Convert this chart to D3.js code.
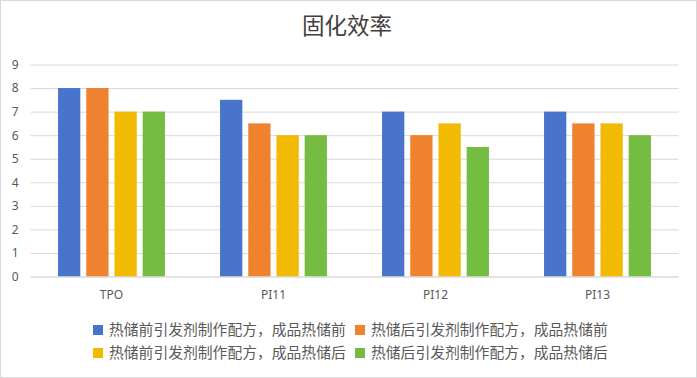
<!DOCTYPE html>
<html>
<head>
<meta charset="utf-8">
<script src="https://cdn.jsdelivr.net/npm/d3@7"></script>
<style>
  body { margin: 0; background: #fff; }
  svg { display: block; }
</style>
</head>
<body>
<svg id="chart" width="697" height="378"></svg>
<script>
// data
const categories = ['TPO', 'PI11', 'PI12', 'PI13'];
const seriesNames = [
    '热储前引发剂制作配方，成品热储前',
    '热储后引发剂制作配方，成品热储前',
    '热储前引发剂制作配方，成品热储后',
    '热储后引发剂制作配方，成品热储后'
];
const series1 = [8, 7.5, 7, 7];
const series2 = [8, 6.5, 6, 6.5];
const series3 = [7, 6, 6.5, 6.5];
const series4 = [7, 6, 5.5, 6];
const yTicks = [0, 1, 2, 3, 4, 5, 6, 7, 8, 9];

const allSeries = [series1, series2, series3, series4];
const colors = ['#4874CB', '#EE822F', '#F2BA02', '#75BD42'];

const W = 697, H = 378;
const cjk = '"Noto Sans CJK SC", "Noto Sans", sans-serif';
const latin = '"Noto Sans", "DejaVu Sans", sans-serif';

const svg = d3.select('#chart');

// outer border
svg.append('rect')
    .attr('x', 0.5).attr('y', 0.5)
    .attr('width', W - 1).attr('height', H - 1)
    .attr('fill', '#fff')
    .attr('stroke', '#d9d9d9');

// title
svg.append('text')
    .attr('x', 347).attr('y', 34)
    .attr('text-anchor', 'middle')
    .style('font-family', cjk)
    .style('font-size', '22.5px')
    .attr('fill', '#404040')
    .text('固化效率');

const x0 = d3.scaleBand()
    .domain(categories)
    .range([30.5, 678.5])
    .paddingInner(0.34)
    .paddingOuter(0.17);

const x1 = d3.scaleBand()
    .domain(d3.range(allSeries.length))
    .range([0, x0.bandwidth()])
    .paddingInner(0.21);

const y = d3.scaleLinear()
    .domain([0, 9])
    .range([276.5, 64.5]);

// gridlines + y labels
const yAxis = d3.axisLeft(y)
    .tickValues(yTicks)
    .tickSize(-(678.5 - 30.5))
    .tickPadding(12);

const gy = svg.append('g')
    .attr('transform', 'translate(30.5,0)')
    .call(yAxis);
gy.select('.domain').remove();
gy.selectAll('.tick line').attr('stroke', '#d9d9d9');
gy.selectAll('.tick text')
    .attr('fill', '#595959')
    .style('font-family', latin)
    .style('font-size', '12px');

// bars
const groups = svg.append('g')
    .selectAll('g')
    .data(categories)
    .join('g')
    .attr('transform', d => `translate(${x0(d)},0)`);

groups.selectAll('rect')
    .data((d, i) => allSeries.map((s, k) => ({ k, v: s[i] })))
    .join('rect')
    .attr('x', d => x1(d.k))
    .attr('width', x1.bandwidth())
    .attr('y', d => y(d.v))
    .attr('height', d => y(0) - y(d.v))
    .attr('fill', d => colors[d.k]);

// x axis
const xAxis = d3.axisBottom(x0).tickSize(0).tickPadding(14);
const gx = svg.append('g')
    .attr('transform', `translate(0,${y(0)})`)
    .call(xAxis);
gx.select('.domain').attr('stroke', '#d9d9d9');
gx.selectAll('.tick text')
    .attr('fill', '#595959')
    .style('font-family', latin)
    .style('font-size', '12px');

// legend
const legendPos = [[93, 330], [355, 330], [93, 353], [355, 353]];
const legend = svg.append('g')
    .selectAll('g')
    .data(seriesNames)
    .join('g')
    .attr('transform', (d, i) => `translate(${legendPos[i][0]},${legendPos[i][1]})`);

legend.append('rect')
    .attr('x', 0).attr('y', -5)
    .attr('width', 10).attr('height', 10)
    .attr('fill', (d, i) => colors[i]);

legend.append('text')
    .attr('x', 16).attr('y', 0)
    .attr('dy', '0.36em')
    .attr('fill', '#595959')
    .style('font-family', cjk)
    .style('font-size', '14.8px')
    .text(d => d);
</script>
</body>
</html>
